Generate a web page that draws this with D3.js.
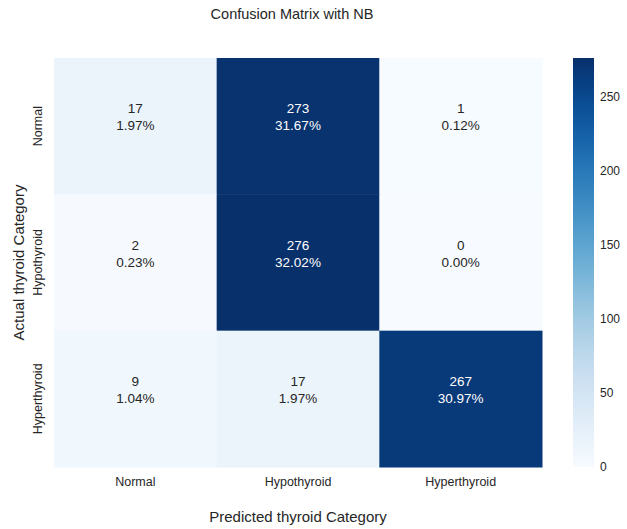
<!DOCTYPE html>
<html>
<head>
<meta charset="utf-8">
<script src="https://cdn.jsdelivr.net/npm/d3@7/dist/d3.min.js"></script>
<style>
  html, body { margin: 0; padding: 0; background: #ffffff; }
  svg { display: block; font-family: "Liberation Sans", Arial, sans-serif; }
</style>
</head>
<body>
<svg id="chart" width="627" height="529"></svg>
<script>
// Class labels, shared by both axes
const categories = ["Normal", "Hypothyroid", "Hyperthyroid"];
// Confusion counts: rows = actual class, columns = predicted class
const rowNormal = [17, 273, 1];
const rowHypo = [2, 276, 0];
const rowHyper = [9, 17, 267];
const counts = [rowNormal, rowHypo, rowHyper];
// Colour bar tick values
const colorbarTicks = [0, 50, 100, 150, 200, 250];

const svg = d3.select("#chart");
const textColor = "#262626";

const plot = { left: 54, top: 58, right: 542, bottom: 467 };
const cbar = { left: 573, right: 594 };

const total = d3.sum(counts.flat());
const vmax = d3.max(counts.flat());
const vmin = d3.min(counts.flat());

const x = d3.scaleBand().domain(categories).range([plot.left, plot.right]);
const y = d3.scaleBand().domain(categories).range([plot.top, plot.bottom]);
const color = d3.scaleSequential(d3.interpolateBlues).domain([vmin, vmax]);

// Flatten into cells
const cells = [];
counts.forEach((row, i) => row.forEach((v, j) => cells.push({ actual: categories[i], predicted: categories[j], value: v })));

// Relative luminance used to choose annotation colour
function luminance(c) {
  const rgb = d3.rgb(c);
  const f = v => { v /= 255; return v <= 0.03928 ? v / 12.92 : Math.pow((v + 0.055) / 1.055, 2.4); };
  return 0.2126 * f(rgb.r) + 0.7152 * f(rgb.g) + 0.0722 * f(rgb.b);
}

const cellG = svg.append("g");
cellG.selectAll("rect").data(cells).join("rect")
  .attr("x", d => x(d.predicted))
  .attr("y", d => y(d.actual))
  .attr("width", x.bandwidth() + 0.5)
  .attr("height", y.bandwidth() + 0.5)
  .attr("fill", d => color(d.value));

const ann = cellG.selectAll("text").data(cells).join("text")
  .attr("text-anchor", "middle")
  .attr("font-size", 13.5)
  .attr("fill", d => luminance(color(d.value)) > 0.408 ? textColor : "#ffffff");
ann.append("tspan")
  .attr("x", d => x(d.predicted) + x.bandwidth() / 2)
  .attr("y", d => y(d.actual) + y.bandwidth() / 2 - 13)
  .text(d => d.value);
ann.append("tspan")
  .attr("x", d => x(d.predicted) + x.bandwidth() / 2)
  .attr("y", d => y(d.actual) + y.bandwidth() / 2 + 4)
  .text(d => (d.value / total * 100).toFixed(2) + "%");

// X axis tick labels
const xAxis = svg.append("g")
  .attr("transform", `translate(0,${plot.bottom})`)
  .call(d3.axisBottom(x).tickSize(0).tickPadding(10));
xAxis.select(".domain").remove();
xAxis.selectAll("text").attr("font-size", 12.5).attr("fill", textColor).attr("font-family", null);

// Y axis tick labels, rotated
const yAxis = svg.append("g")
  .attr("transform", `translate(${plot.left},0)`)
  .call(d3.axisLeft(y).tickSize(0).tickPadding(0));
yAxis.select(".domain").remove();
yAxis.selectAll("text")
  .attr("font-size", 12.5)
  .attr("fill", textColor)
  .attr("font-family", null)
  .attr("text-anchor", "middle")
  .attr("x", 0).attr("dy", null)
  .attr("transform", "translate(-12,0) rotate(-90)");

// Colour bar gradient
const defs = svg.append("defs");
const grad = defs.append("linearGradient").attr("id", "cbar-grad")
  .attr("x1", 0).attr("y1", 1).attr("x2", 0).attr("y2", 0);
d3.range(0, 1.0001, 0.02).forEach(t => {
  grad.append("stop").attr("offset", t).attr("stop-color", color(vmin + t * (vmax - vmin)));
});
svg.append("rect")
  .attr("x", cbar.left).attr("y", plot.top)
  .attr("width", cbar.right - cbar.left).attr("height", plot.bottom - plot.top)
  .attr("fill", "url(#cbar-grad)");

const cy = d3.scaleLinear().domain([vmin, vmax]).range([plot.bottom, plot.top]);
const cAxis = svg.append("g")
  .attr("transform", `translate(${cbar.right},0)`)
  .call(d3.axisRight(cy).tickValues(colorbarTicks).tickSize(0).tickPadding(6));
cAxis.select(".domain").remove();
cAxis.selectAll("text").attr("font-size", 12).attr("fill", textColor).attr("font-family", null);

// Title and axis titles
svg.append("text")
  .attr("x", (plot.left + plot.right) / 2 - 6).attr("y", 19)
  .attr("text-anchor", "middle").attr("font-size", 14.5).attr("fill", textColor)
  .text("Confusion Matrix with NB");
svg.append("text")
  .attr("x", (plot.left + plot.right) / 2).attr("y", 522)
  .attr("text-anchor", "middle").attr("font-size", 15).attr("fill", textColor)
  .text("Predicted thyroid Category");
svg.append("text")
  .attr("transform", `translate(24,${(plot.top + plot.bottom) / 2}) rotate(-90)`)
  .attr("text-anchor", "middle").attr("font-size", 15).attr("fill", textColor)
  .text("Actual thyroid Category");
</script>
</body>
</html>
